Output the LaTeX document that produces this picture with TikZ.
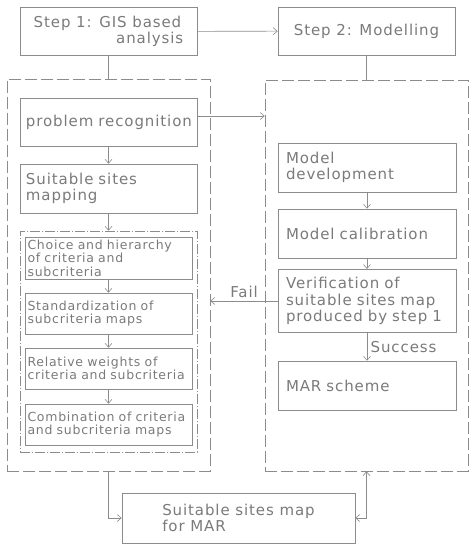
\documentclass[tikz,border=0pt]{standalone}
\usepackage{fontspec}
\setmainfont{DejaVu Sans}[LetterSpace=6]
\usetikzlibrary{arrows.meta}

\begin{document}
\begin{tikzpicture}[x=1pt,y=-1pt,
  ln/.style={draw=black!45,line width=0.6pt},
  arr/.style={ln,-{Straight Barb[length=4pt,width=7pt]}},
  arrboth/.style={ln,{Straight Barb[length=4pt,width=7pt]}-{Straight Barb[length=4pt,width=7pt]}},
  txt/.style={text=black!52,font=\fontsize{15}{16.5}\selectfont},
  box/.style={ln,txt,rectangle,minimum width=177pt,minimum height=48pt,inner sep=6pt},
  leftbox/.style={box,text width=165pt,align=left},
  rightbox/.style={box,minimum width=178pt,inner sep=8pt,text width=162pt,align=left},
  subbox/.style={ln,rectangle,text=black!52,font=\fontsize{12.5}{13.6}\selectfont,
    minimum width=167pt,minimum height=41pt,inner sep=2.5pt,text width=162pt,align=left},
  frame/.style={ln,rectangle,dash pattern=on 12pt off 4pt,minimum width=203pt},
  subframe/.style={ln,rectangle,dash pattern=on 10pt off 2pt on 1pt off 2pt}]
\useasboundingbox (0,0) rectangle (474,550);

% outer frames
\node (gisframe) [frame,minimum height=392pt] at (108.5,275) {};
\node (modframe) [frame,minimum height=391pt] at (366.5,275.5) {};
\node (mcaframe) [subframe,minimum width=177pt,minimum height=221pt] at (108.5,341.5) {};

% top steps
\node (step1) [box,align=left] at (108.5,31.5) {Step 1: GIS based\\\hspace*{5.5em}analysis};
\node (step2) [box,align=center] at (366.5,31) {Step 2: Modelling};

% step 1 column
\node (problem) [leftbox] at (108.5,122) {problem recognition};
\node (suitable) [leftbox,minimum height=49pt] at (108.5,188.5) {Suitable sites\\mapping};
\node (choice) [subbox,minimum height=42pt] at (108.5,258) {Choice and hierarchy\\of criteria and\\subcriteria};
\node (stand) [subbox] at (108.5,313.5) {Standardization of\\subcriteria maps};
\node (relw) [subbox] at (108.5,368.5) {Relative weights of\\criteria and subcriteria};
\node (comb) [subbox] at (108.5,424.5) {Combination of criteria\\and subcriteria maps};

% step 2 column
\node (modeldev) [rightbox,minimum height=49pt] at (367,167.5) {Model\\development};
\node (modelcal) [rightbox,minimum height=49pt] at (367,233.5) {Model calibration};
\node (verif) [rightbox] at (367,301) {Verification of\\suitable sites map\\produced by step 1};
\node (mar) [rightbox,minimum height=49pt] at (367,385.5) {MAR scheme};

% result
\node (final) [box,minimum width=233pt,minimum height=50pt,align=left] at (238.5,518) {Suitable sites map\\for MAR};

\draw[arr] (step1) -- (step2);
\draw[ln] (step1) -- (gisframe);
\draw[ln] (step2) -- (modframe);
\draw[arr] ([yshift=6pt]problem.east) -- ([yshift=6pt]problem.east -| modframe.west);

\draw[arr] (problem) -- (suitable);
\draw[arr] (suitable) -- (mcaframe);
\draw[arr] (choice) -- (stand);
\draw[arr] (stand) -- (relw);
\draw[arr] (relw) -- (comb);

\draw[arr] (modeldev) -- (modelcal);
\draw[arr] (modelcal) -- (verif);
\draw[arr] (verif) -- node[txt,right] {Success} (mar);
\draw[arr] (verif.west) -- node[txt,above] {Fail} (verif.west -| gisframe.east);

\draw[arr] (gisframe.south) |- (final.west);
\draw[arrboth] (final.east) -| (modframe.south);
\end{tikzpicture}
\end{document}
